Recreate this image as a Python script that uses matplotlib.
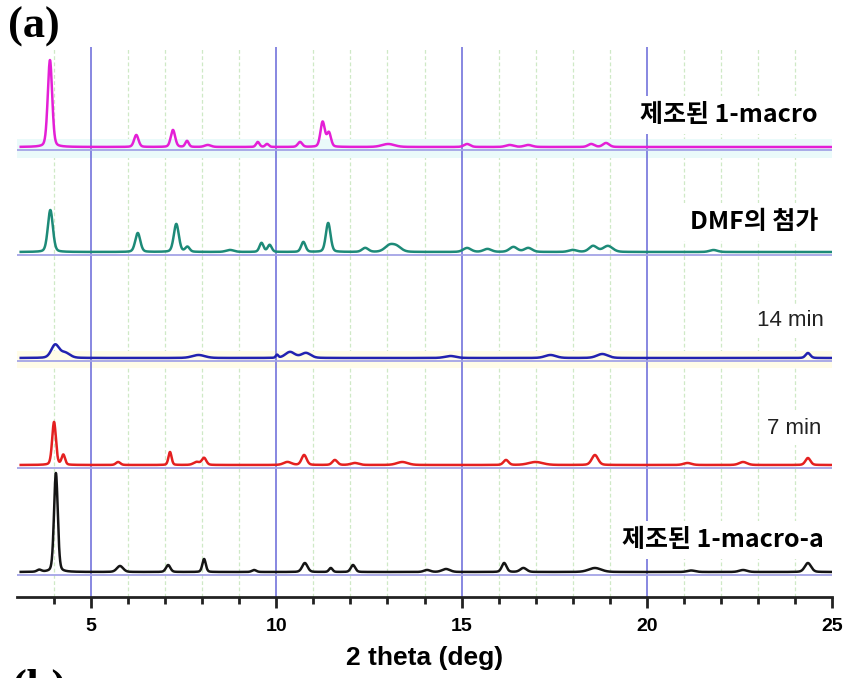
import numpy as np
import matplotlib
matplotlib.use("Agg")
from matplotlib import pyplot as plt

# x 범위 (2 theta)
x_min, x_max = 3, 25

# 각 패턴의 피크: 위치(deg), 높이(a.u.), 폭(deg)
# 제조된 1-macro (magenta)
macro_pos = [3.89, 6.22, 7.21, 7.59, 8.15, 9.50, 9.75, 10.64, 11.25, 11.42, 13.02, 15.15, 16.3, 16.8, 18.5, 18.9]
macro_h   = [87, 12, 17, 6, 2, 5, 3, 5, 25, 14, 3, 3, 2, 2, 3, 4]
macro_w   = [0.14, 0.14, 0.14, 0.11, 0.2, 0.11, 0.11, 0.14, 0.14, 0.13, 0.40, 0.2, 0.25, 0.25, 0.2, 0.2]

# DMF의 첨가 (teal)
dmf_pos = [3.90, 6.26, 7.30, 7.60, 8.75, 9.60, 9.82, 10.73, 11.40, 12.40, 13.05, 13.25, 15.15, 15.7, 16.4, 16.8, 18.0, 18.55, 18.95, 21.8]
dmf_h   = [42, 19, 28, 5, 2, 9, 7, 10, 29, 4, 6, 5, 4, 3, 5, 4, 2, 6, 6, 2]
dmf_w   = [0.16, 0.16, 0.16, 0.14, 0.25, 0.13, 0.13, 0.14, 0.15, 0.2, 0.3, 0.3, 0.25, 0.25, 0.25, 0.25, 0.25, 0.25, 0.3, 0.25]

# 14 min (blue)
min14_pos = [4.03, 4.30, 7.90, 10.02, 10.37, 10.80, 14.7, 17.4, 18.8, 24.35]
min14_h   = [13, 5, 3, 3, 6, 5, 2, 3, 4, 5]
min14_w   = [0.25, 0.3, 0.4, 0.08, 0.3, 0.3, 0.35, 0.35, 0.35, 0.15]

# 7 min (red)
min7_pos = [4.00, 4.25, 5.73, 7.13, 7.85, 8.05, 10.30, 10.75, 11.58, 12.12, 13.4, 16.2, 17.0, 18.6, 21.1, 22.6, 24.35]
min7_h   = [43, 10, 3, 13, 3, 7, 3, 10, 5, 2, 3, 5, 3, 10, 2, 3, 7]
min7_w   = [0.12, 0.11, 0.14, 0.10, 0.2, 0.14, 0.25, 0.16, 0.16, 0.25, 0.35, 0.16, 0.45, 0.2, 0.25, 0.25, 0.16]

# 제조된 1-macro-a (black)
macroa_pos = [3.60, 4.05, 5.78, 7.08, 8.05, 9.40, 10.77, 11.47, 12.07, 14.07, 14.58, 16.15, 16.67, 18.6, 21.2, 22.6, 24.35]
macroa_h   = [2, 99, 6, 7, 13, 2, 9, 4, 7, 2, 3, 9, 4, 4, 1.5, 2, 9]
macroa_w   = [0.14, 0.12, 0.2, 0.14, 0.11, 0.14, 0.17, 0.11, 0.14, 0.2, 0.25, 0.15, 0.2, 0.4, 0.25, 0.25, 0.2]

labels = ["제조된 1-macro", "DMF의 첨가", "14 min", "7 min", "제조된 1-macro-a"]
label_bold = [True, True, False, False, True]
colors = ["#e41fd6", "#1d8a78", "#2222b0", "#e42020", "#151515"]

# 세로 오프셋 (그림 배치)
offsets = [450, 345, 239, 132, 25]
label_y = [482, 375, 276, 169, 57]
label_x = [24.62, 24.62, 24.78, 24.72, 24.78]

patterns = [
    (macro_pos, macro_h, macro_w),
    (dmf_pos, dmf_h, dmf_w),
    (min14_pos, min14_h, min14_w),
    (min7_pos, min7_h, min7_w),
    (macroa_pos, macroa_h, macroa_w),
]

x = np.linspace(x_min + 0.1, x_max, 3000)


def profile(pos, h, w):
    # pseudo-voigt 합
    y = np.zeros_like(x)
    for p, a, s in zip(pos, h, w):
        g = np.exp(-4 * np.log(2) * ((x - p) / s) ** 2)
        l = 1 / (1 + 4 * ((x - p) / s) ** 2)
        y += a * (0.75 * g + 0.25 * l)
    return y


fig = plt.figure(figsize=(8.47, 6.78), dpi=100)
ax = fig.add_axes([17 / 847, 81 / 678, 815 / 847, 550 / 678])
ax.set_xlim(x_min, x_max)
ax.set_ylim(0, 550)

# 격자선
for gx in range(4, 25):
    if gx % 5 == 0:
        ax.axvline(gx, color="#7373dc", lw=1.2, zorder=1)
    else:
        ax.axvline(gx, color="#cfe9c6", lw=0.9, ls=(0, (3, 2)), zorder=0)

# 배경 띠
ax.axhspan(439, 458, color="#eafafa", zorder=0.5, lw=0)
ax.axhspan(229, 246, color="#fffce8", zorder=0.5, lw=0)

for i, (pos, h, w) in enumerate(patterns):
    y = profile(pos, h, w) + offsets[i]
    ax.axhline(offsets[i] - 3, color="#a4a4e6", lw=1.3, zorder=2)
    ax.plot(x, y, color=colors[i], lw=1.8, zorder=4)
    if label_bold[i]:
        ax.text(label_x[i], label_y[i], labels[i], ha="right", va="center",
                fontsize=18, fontweight="bold",
                family=["Noto Sans CJK KR", "DejaVu Sans"], zorder=3,
                bbox=dict(facecolor="white", edgecolor="none", pad=5))
    else:
        ax.text(label_x[i], label_y[i], labels[i], ha="right", va="center",
                fontsize=16, family=["Liberation Sans", "DejaVu Sans"], color="#222222",
                zorder=3, bbox=dict(facecolor="white", edgecolor="none", pad=5))

for s in ["top", "left", "right"]:
    ax.spines[s].set_visible(False)
ax.spines["bottom"].set_linewidth(2.0)
ax.spines["bottom"].set_color("#222222")
ax.set_yticks([])
ax.set_xticks([5, 10, 15, 20, 25])
ax.set_xticks(range(4, 26), minor=True)
ax.tick_params(axis="x", which="major", direction="out", length=8, width=2, color="#222222", pad=7)
ax.tick_params(axis="x", which="minor", direction="out", length=5, width=2, color="#222222")
for t in ax.get_xticklabels():
    t.set_fontsize(14)
    t.set_fontweight("bold")
    t.set_family("Liberation Sans")
ax.set_xlabel("2 theta (deg)", fontsize=19, fontweight="bold", family="Liberation Sans", labelpad=8)

fig.text(8 / 847, 1 - 27 / 678, "(a)", fontsize=32, fontweight="bold", family="Liberation Serif",
         va="center", ha="left")
# 다음 패널 제목 (아래쪽이 잘려 보임)
fig.text(12 / 847, 1 - 669 / 678, "(b)", fontsize=32, fontweight="bold", family="Liberation Serif",
         va="top", ha="left")

fig.savefig("out.png", dpi=100)
